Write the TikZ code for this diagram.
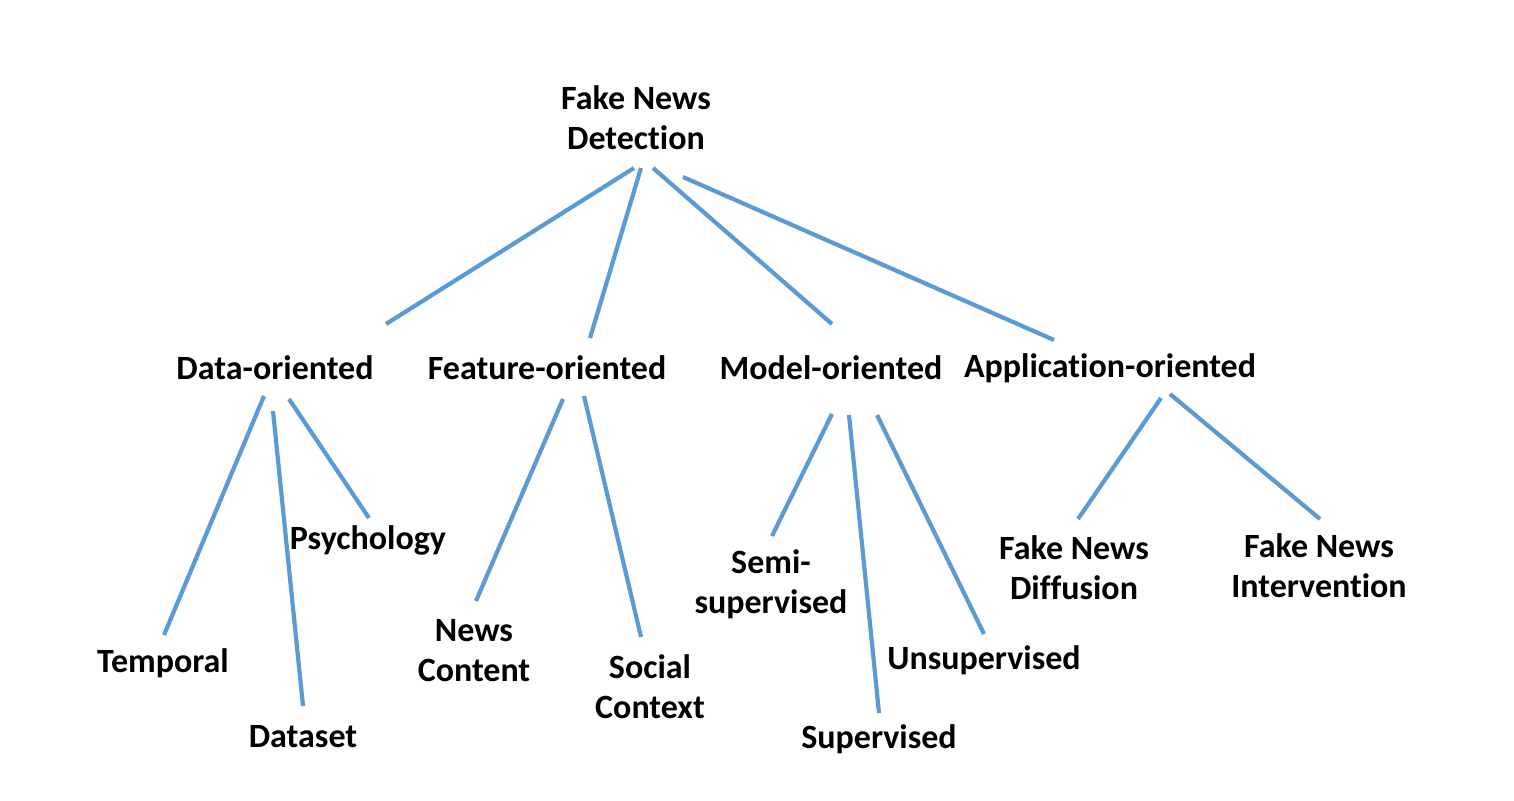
\documentclass[tikz,border=0pt]{standalone}
\usepackage{fontspec}
\setmainfont{Carlito}[Ligatures=NoCommon]
\definecolor{linkblue}{HTML}{5B9BD5}
\begin{document}
\begin{tikzpicture}[x=1pt,y=-1pt,
  lbl/.style={align=center,inner sep=0pt,font=\fontsize{34}{40}\selectfont\bfseries},
  link/.style={draw=linkblue,line width=4.2pt}]
\useasboundingbox[fill=white] (0,0) rectangle (1514,800);
% nodes
\node[lbl] (root) at (636,118) {Fake News\\Detection};
\node[lbl] (data) at (275,368) {Data-oriented};
\node[lbl] (feat) at (547,368) {Feature-oriented};
\node[lbl] (model) at (831,368) {Model-oriented};
\node[lbl] (app) at (1110,368) {Application-oriented};
\node[lbl] (temp) at (163,663) {Temporal};
\node[lbl] (dset) at (303,737) {Dataset};
\node[lbl] (psy) at (368,540) {Psychology};
\node[lbl] (news) at (474,651) {News\\Content};
\node[lbl] (social) at (650,687) {Social\\Context};
\node[lbl] (semi) at (771,584) {Semi-\\supervised};
\node[lbl] (sup) at (879,739) {Supervised};
\node[lbl] (unsup) at (984,660) {Unsupervised};
\node[lbl] (diff) at (1074,568) {Fake News\\Diffusion};
\node[lbl] (interv) at (1319,566) {Fake News\\Intervention};
% connector ends
\coordinate (r1) at (634,168); \coordinate (data-t) at (386,324);
\coordinate (r2) at (641,168); \coordinate (feat-t) at (590,338);
\coordinate (r3) at (653,168); \coordinate (model-t) at (832,324);
\coordinate (r4) at (683,177); \coordinate (app-t) at (1054,340);
\coordinate (d1) at (264,396); \coordinate (temp-t) at (164,635);
\coordinate (d2) at (273,411); \coordinate (dset-t) at (303,706);
\coordinate (d3) at (289,399); \coordinate (psy-t) at (369,518);
\coordinate (f1) at (563,399); \coordinate (news-t) at (476,601);
\coordinate (f2) at (584,396); \coordinate (social-t) at (641,637);
\coordinate (m1) at (832,414); \coordinate (semi-t) at (772,536);
\coordinate (m2) at (849,415); \coordinate (sup-t) at (879,713);
\coordinate (m3) at (877,415); \coordinate (unsup-t) at (984,634);
\coordinate (a1) at (1161,398); \coordinate (diff-t) at (1078,519);
\coordinate (a2) at (1170,394); \coordinate (interv-t) at (1320,519);
% connectors
\draw[link] (r1) -- (data-t);
\draw[link] (r2) -- (feat-t);
\draw[link] (r3) -- (model-t);
\draw[link] (r4) -- (app-t);
\draw[link] (d1) -- (temp-t);
\draw[link] (d2) -- (dset-t);
\draw[link] (d3) -- (psy-t);
\draw[link] (f1) -- (news-t);
\draw[link] (f2) -- (social-t);
\draw[link] (m1) -- (semi-t);
\draw[link] (m2) -- (sup-t);
\draw[link] (m3) -- (unsup-t);
\draw[link] (a1) -- (diff-t);
\draw[link] (a2) -- (interv-t);
\end{tikzpicture}
\end{document}
